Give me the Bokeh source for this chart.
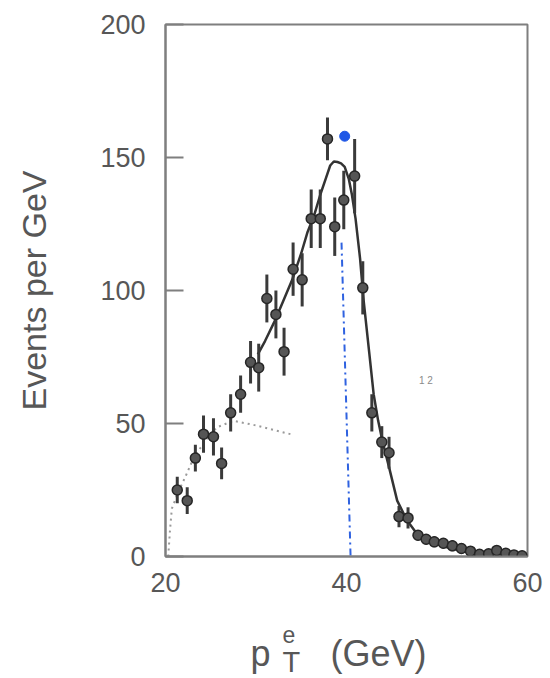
from bokeh.plotting import figure
from bokeh.layouts import column
from bokeh.models import Range1d, FixedTicker
from bokeh.core.properties import value
from bokeh.embed import file_html
from bokeh.resources import INLINE

# ---- data ----
pt_x = [21.3, 22.4, 23.3, 24.2, 25.3, 26.2, 27.2, 28.3, 29.4, 30.3,
        31.2, 32.2, 33.1, 34.1, 35.1, 36.1, 37.1, 37.9, 38.7, 39.7,
        40.9, 41.8, 42.8, 43.9, 44.7, 45.8, 46.8, 47.9, 48.8, 49.7,
        50.7, 51.7, 52.7, 53.7, 54.7, 55.7, 56.6, 57.6, 58.5, 59.4]
events = [25, 21, 37, 46, 45, 35, 54, 61, 73, 71,
          97, 91, 77, 108, 104, 127, 127, 157, 124, 134,
          143, 101, 54, 43, 39, 15, 14.5, 8, 6.5, 5.5,
          5, 4, 3, 2, 0.8, 1, 2.3, 1.2, 0.6, 0.3]
errors = [5, 5, 5, 7, 7, 6, 7, 7, 8, 9,
          9, 9, 9, 10, 10, 11, 11, 8, 11, 11,
          14, 10, 7, 6, 6, 4, 4, 2, 2, 2,
          2, 2, 2, 1.5, 1.5, 1.5, 1.5, 1.5, 1, 1]

fit_x = [30.2, 31.0, 32.0, 33.0, 34.0, 35.0, 35.7, 36.4, 37.1, 37.7,
         38.2, 38.6, 39.0, 39.4, 39.8, 40.25, 40.6, 41.0, 41.5, 41.9,
         42.5, 43.0, 43.5, 44.0, 44.7, 45.6, 46.7, 47.8, 49.0, 50.0,
         51.1, 52.0, 54.0, 56.0, 58.0, 60.0]
fit_y = [76, 81, 88, 96, 104, 114, 122, 128, 136, 142,
         147, 148.5, 148.3, 147.8, 146.5, 142, 136, 127, 112, 96,
         77, 61, 51, 43, 33.6, 21, 13.5, 8.5, 6, 4.6,
         3.5, 2.7, 1.5, 0.9, 0.6, 0.4]

bkg_x = [20.3, 20.5, 20.7, 21.5, 22.2, 23.1, 24.5, 25.7, 27.5, 29.7, 31.5, 33.8]
bkg_y = [0, 10, 18, 25, 30, 37, 44, 48.6, 51, 49.5, 48, 46]

blue_line_x = [39.45, 40.45]
blue_line_y = [118, 0]
blue_dot_x = [39.8]
blue_dot_y = [158]

x_ticks = [20, 40, 60]
y_ticks = [0, 50, 100, 150, 200]

GRAY = "#7f7f7f"
TEXT = "#575757"
FONT = "Liberation Sans"

p = figure(width=548, height=600, output_backend="svg", toolbar_location=None,
           x_range=Range1d(20, 60), y_range=Range1d(0, 200),
           min_border_left=165, min_border_right=21, min_border_top=24,
           min_border_bottom=44)
p.background_fill_color = "white"
p.border_fill_color = "white"
p.xgrid.visible = False
p.ygrid.visible = False
p.outline_line_color = GRAY
p.outline_line_width = 2

# axes
p.yaxis.ticker = FixedTicker(ticks=y_ticks)
p.xaxis.ticker = FixedTicker(ticks=x_ticks)
for ax in (p.xaxis[0], p.yaxis[0]):
    ax.axis_line_color = GRAY
    ax.axis_line_width = 2
    ax.major_tick_line_color = GRAY
    ax.major_tick_line_width = 2
    ax.minor_tick_line_color = None
    ax.major_tick_out = 0
    ax.major_label_text_font = FONT
    ax.major_label_text_font_size = "27px"
    ax.major_label_text_color = TEXT
p.yaxis.major_tick_in = 18
p.xaxis.major_tick_in = 0
p.yaxis.major_label_standoff = 20
p.xaxis.major_label_standoff = 16
p.yaxis.axis_label = "Events per GeV"
p.yaxis.axis_label_text_font = FONT
p.yaxis.axis_label_text_font_size = "34px"
p.yaxis.axis_label_text_font_style = "normal"
p.yaxis.axis_label_text_color = TEXT
p.yaxis.axis_label_standoff = 44

# background (dotted)
p.line(bkg_x, bkg_y, line_color="#9a9a9a", line_width=2, line_dash="2 4")

# blue dash-dot line and dot
p.line(blue_line_x, blue_line_y, line_color="#2f62e0", line_width=2, line_dash="7 4 2 4")
p.scatter(blue_dot_x, blue_dot_y, size=10, fill_color="#1f57e6", line_color="#1f57e6")

# fit curve
p.line(fit_x, fit_y, line_color="#333333", line_width=2.5)

# data with error bars
lo = [v - e for v, e in zip(events, errors)]
hi = [v + e for v, e in zip(events, errors)]
p.segment(x0=pt_x, y0=lo, x1=pt_x, y1=hi, line_color="#3a3a3a", line_width=3)
p.scatter(pt_x, events, size=10, fill_color="#555555", line_color="#262626", line_width=1.5)

# faint remnant text
p.text(x=[48.0], y=[66], text=["1 2"], text_font=value(FONT), text_font_size="10px",
       text_color="#8a8a8a", text_baseline="middle")

# ---- x axis title strip: p with stacked e / T, then (GeV) ----
# frame of this strip is aligned with the plot frame (x in page pixels 165..527)
q = figure(width=548, height=78, output_backend="svg", toolbar_location=None,
           x_range=Range1d(165, 527), y_range=Range1d(78, 0),
           min_border_left=165, min_border_right=21, min_border_top=0, min_border_bottom=0)
q.axis.visible = False
q.xgrid.visible = False
q.ygrid.visible = False
q.outline_line_color = None
q.background_fill_color = "white"
q.border_fill_color = "white"
q.text(x=[250], y=[53], text=["p"], text_font=value(FONT), text_font_size="36px",
       text_color=TEXT, text_baseline="alphabetic", text_align="left")
q.text(x=[282], y=[34], text=["e"], text_font=value(FONT), text_font_size="23px",
       text_color=TEXT, text_baseline="alphabetic", text_align="left")
q.text(x=[282], y=[61], text=["T"], text_font=value(FONT), text_font_size="29px",
       text_color=TEXT, text_baseline="alphabetic", text_align="left")
q.text(x=[330], y=[53], text=["(GeV)"], text_font=value(FONT), text_font_size="36px",
       text_color=TEXT, text_baseline="alphabetic", text_align="left")

layout = column(p, q, spacing=0)
open("out.html", "w").write(file_html(layout, INLINE))
